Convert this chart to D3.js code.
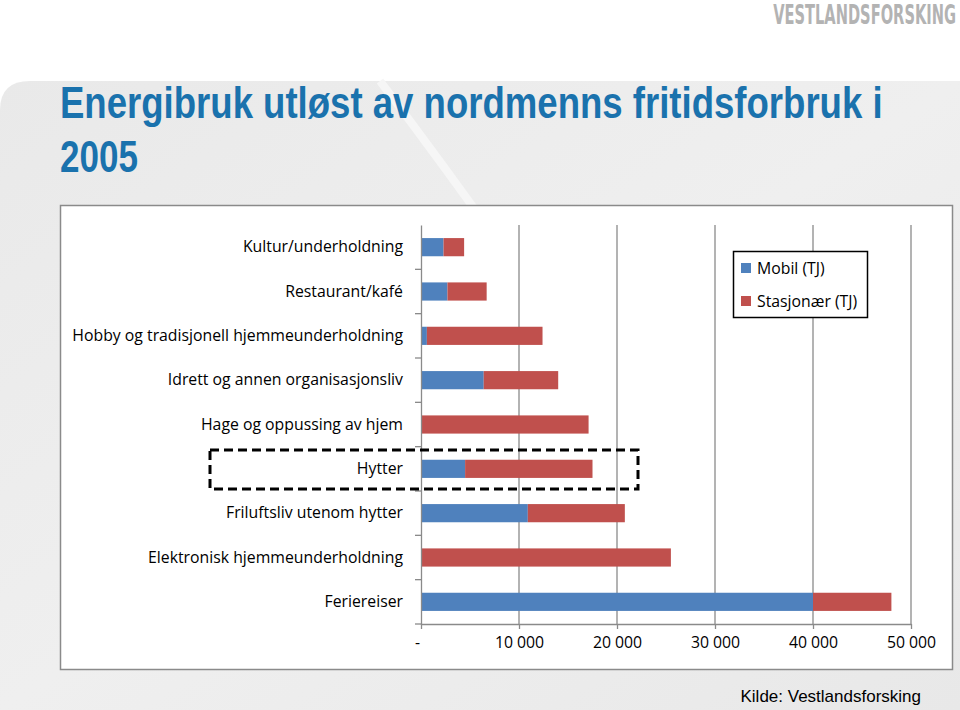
<!DOCTYPE html>
<html><head><meta charset="utf-8">
<script src="https://cdn.jsdelivr.net/npm/d3@7"></script>
<style>body{margin:0;background:#fff;}svg{display:block;}</style>
</head><body>
<svg id="c" width="960" height="710"></svg>
<script>
const categories = ["Kultur/underholdning","Restaurant/kafé","Hobby og tradisjonell hjemmeunderholdning","Idrett og annen organisasjonsliv","Hage og oppussing av hjem","Hytter","Friluftsliv utenom hytter","Elektronisk hjemmeunderholdning","Feriereiser"];
const mobil = [2300, 2700, 600, 6400, 0, 4500, 10900, 0, 40000];
const stasjonaer = [2100, 4000, 11800, 7600, 17100, 13000, 9900, 25500, 8000];
const seriesNames = ["Mobil (TJ)", "Stasjonær (TJ)"];
const xTicks = [0, 10000, 20000, 30000, 40000, 50000];
const xTickLabels = ["-", "10 000", "20 000", "30 000", "40 000", "50 000"];
const colors = ["#4f81bd", "#c0504d"];

const svg = d3.select("#c");
const defs = svg.append("defs");
const g1 = defs.append("linearGradient").attr("id","bg").attr("x1",0).attr("y1",0).attr("x2",1).attr("y2",1);
g1.append("stop").attr("offset","0").attr("stop-color","#e9e9e9");
g1.append("stop").attr("offset","0.5").attr("stop-color","#efefef");
g1.append("stop").attr("offset","1").attr("stop-color","#e8e8e8");
svg.append("rect").attr("x",0).attr("y",0).attr("width",960).attr("height",710).attr("fill","#fff");
svg.append("path").attr("d","M0,110 Q0,81 30,81 L960,81 L960,710 L0,710 Z").attr("fill","url(#bg)");
svg.append("path").attr("d","M380,81 Q470,200 560,330").attr("fill","none").attr("stroke","#f6f6f6").attr("stroke-width",8);

// horizontally squeeze a text (anchored at ax) to a target width, keeping its height
function squeeze(sel, ax, target){
  const w = sel.node().getComputedTextLength();
  if (w > 0) sel.attr("transform", `translate(${ax},0) scale(${target / w},1) translate(${-ax},0)`);
}

// logo
const logo = svg.append("text").attr("x",956).attr("y",24).attr("text-anchor","end")
  .attr("font-family","'Liberation Sans Narrow','DejaVu Sans Condensed',Arial,sans-serif").attr("font-weight","bold")
  .attr("font-size",27).attr("fill","#b3b3b3").text("VESTLANDSFORSKING");
squeeze(logo, 956, 183);

// title
const tf = "'Liberation Sans Narrow','Liberation Sans',Arial,sans-serif";
const t1 = svg.append("text").attr("x",60).attr("y",118).attr("font-family",tf).attr("font-weight","bold")
  .attr("font-size",44).attr("fill","#1a72ad").text("Energibruk utløst av nordmenns fritidsforbruk i");
squeeze(t1, 60, 823);
const t2 = svg.append("text").attr("x",60).attr("y",172).attr("font-family",tf).attr("font-weight","bold")
  .attr("font-size",44).attr("fill","#1a72ad").text("2005");
squeeze(t2, 60, 78);

// panel
svg.append("rect").attr("x",60.5).attr("y",205.5).attr("width",892).attr("height",464)
  .attr("fill","#fff").attr("stroke","#8a8a8a").attr("stroke-width",1.5);

const cf = "'Open Sans',Lato,sans-serif";
const fs = 15.8;
const x = d3.scaleLinear().domain([0,50000]).range([421,911]);
const y = d3.scaleBand().domain(categories).range([225,624]).paddingInner(0.59).paddingOuter(0.295);
const yb = d3.scaleBand().domain(categories).range([225,624]);

svg.append("g").selectAll("line").data(xTicks.slice(1)).join("line")
  .attr("x1",d=>x(d)).attr("x2",d=>x(d)).attr("y1",225).attr("y2",624)
  .attr("stroke","#8a8a8a").attr("stroke-width",1.3);

const stackData = categories.map((c,i)=>({cat:c, m:mobil[i], s:stasjonaer[i]}));
const stack = d3.stack().keys(["m","s"])(stackData);
svg.append("g").selectAll("g").data(stack).join("g").attr("fill",(d,i)=>colors[i])
  .selectAll("rect").data(d=>d).join("rect")
  .attr("x",d=>x(d[0])).attr("width",d=>x(d[1])-x(d[0]))
  .attr("y",d=>y(d.data.cat)).attr("height",y.bandwidth());

const xAxis = d3.axisBottom(x).tickValues(xTicks).tickFormat((d,i)=>xTickLabels[i]).tickSize(5).tickSizeOuter(0);
const gx = svg.append("g").attr("transform","translate(0,624)").call(xAxis);
gx.select(".domain").attr("stroke","#8a8a8a").attr("stroke-width",1.3);
gx.selectAll(".tick line").attr("stroke","#8a8a8a").attr("stroke-width",1.3);
gx.selectAll(".tick text").attr("font-family",cf).attr("font-size",fs).attr("fill","#000").attr("dy","1.0em");
gx.selectAll(".tick text").filter((d,i)=>i===0).attr("dx",-4);

const yAxis = d3.axisLeft(yb).tickSize(0).tickPadding(18);
const gy = svg.append("g").attr("transform","translate(421,0)").call(yAxis);
gy.select(".domain").attr("stroke","#8a8a8a").attr("stroke-width",1.3);
gy.selectAll(".tick text").attr("font-family",cf).attr("font-size",fs).attr("fill","#000");
svg.append("g").selectAll("line").data(categories).join("line")
  .attr("x1",415).attr("x2",421).attr("y1",d=>yb(d)+yb.bandwidth()).attr("y2",d=>yb(d)+yb.bandwidth())
  .attr("stroke","#8a8a8a").attr("stroke-width",1.3);

svg.append("rect").attr("x",210).attr("y",450).attr("width",428).attr("height",39)
  .attr("fill","none").attr("stroke","#000").attr("stroke-width",3).attr("stroke-dasharray","9,5");

const lg = svg.append("g");
lg.append("rect").attr("x",733.5).attr("y",251.5).attr("width",134).attr("height",66)
  .attr("fill","#fff").attr("stroke","#000").attr("stroke-width",1.5);
seriesNames.forEach((n,i)=>{
  lg.append("rect").attr("x",741).attr("y",263+i*33).attr("width",10).attr("height",10).attr("fill",colors[i]);
  lg.append("text").attr("x",757).attr("y",268+i*33).attr("dy","0.35em").attr("font-family",cf)
    .attr("font-size",fs).attr("fill","#000").text(n);
});

svg.append("text").attr("x",921).attr("y",702).attr("text-anchor","end")
  .attr("font-family","'Liberation Sans',Arial,sans-serif").attr("font-size",17).attr("fill","#000")
  .text("Kilde: Vestlandsforsking");
</script>
</body></html>
